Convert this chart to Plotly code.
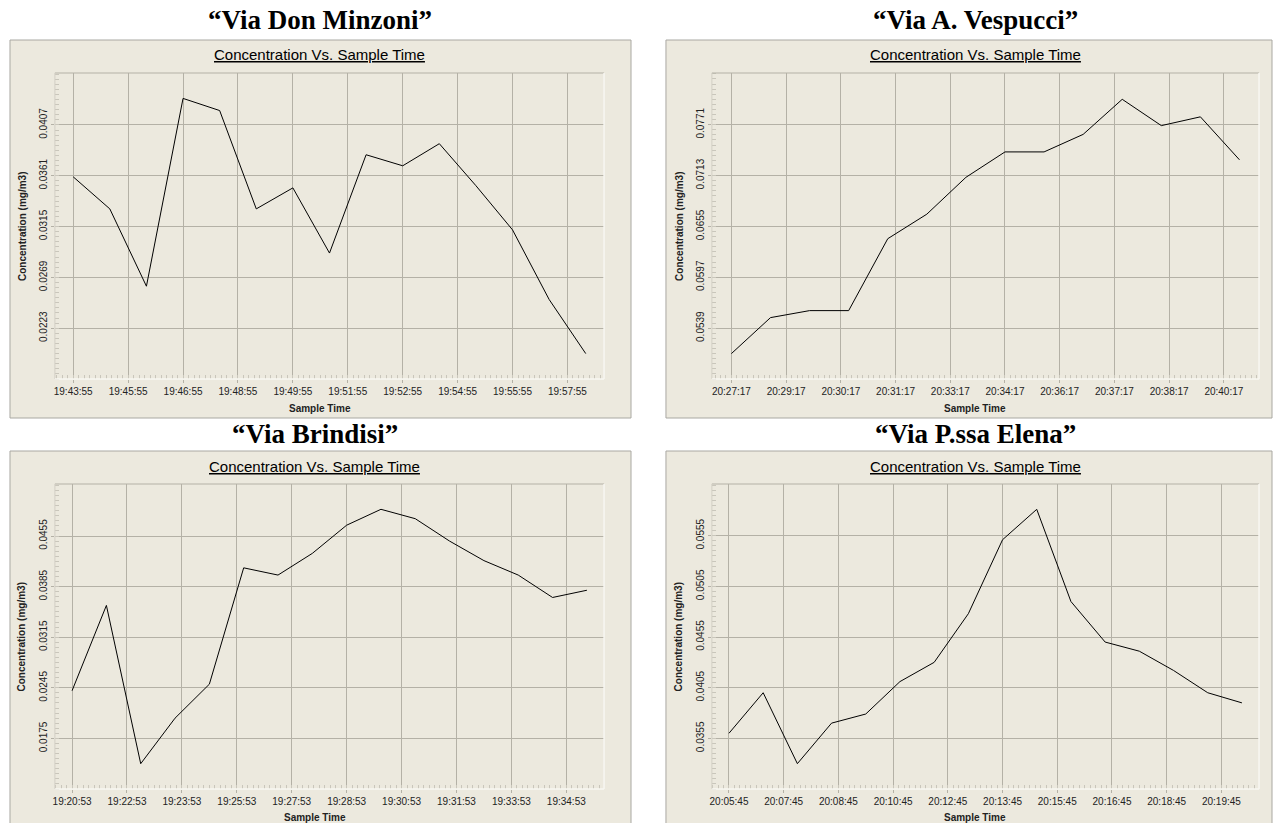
import plotly.graph_objects as go

W, H = 1273, 823
BG = "#ECE9DE"
GRID = "#B4B1A6"
MINOR = "#C9C6BB"
BORDER = "#A9A8A2"
TXT = "#222222"
SANS = "Liberation Sans, Arial, sans-serif"
SERIF = "Liberation Serif, Times New Roman, serif"

# ---- data ----
MINZONI_TICKS = ["19:43:55", "19:45:55", "19:46:55", "19:48:55", "19:49:55",
                 "19:51:55", "19:52:55", "19:54:55", "19:55:55", "19:57:55"]
MINZONI_CONC = [0.0360, 0.0331, 0.0261, 0.0431, 0.0420, 0.0331, 0.0350, 0.0291,
                0.0380, 0.0370, 0.0390, 0.0352, 0.0312, 0.0249, 0.0200]
MINZONI_YTICKS = [0.0223, 0.0269, 0.0315, 0.0361, 0.0407]

VESPUCCI_TICKS = ["20:27:17", "20:29:17", "20:30:17", "20:31:17", "20:33:17",
                  "20:34:17", "20:36:17", "20:37:17", "20:38:17", "20:40:17"]
VESPUCCI_CONC = [0.0510, 0.0551, 0.0559, 0.0559, 0.0641, 0.0669, 0.0711, 0.0740,
                 0.0740, 0.0760, 0.0800, 0.0770, 0.0780, 0.0731]
VESPUCCI_YTICKS = [0.0539, 0.0597, 0.0655, 0.0713, 0.0771]

BRINDISI_TICKS = ["19:20:53", "19:22:53", "19:23:53", "19:25:53", "19:27:53",
                  "19:28:53", "19:30:53", "19:31:53", "19:33:53", "19:34:53"]
BRINDISI_CONC = [0.0241, 0.0359, 0.0140, 0.0203, 0.0250, 0.0411, 0.0401, 0.0431,
                 0.0470, 0.0492, 0.0479, 0.0448, 0.0421, 0.0401, 0.0370, 0.0380]
BRINDISI_YTICKS = [0.0175, 0.0245, 0.0315, 0.0385, 0.0455]

ELENA_TICKS = ["20:05:45", "20:07:45", "20:08:45", "20:10:45", "20:12:45",
               "20:13:45", "20:15:45", "20:16:45", "20:18:45", "20:19:45"]
ELENA_CONC = [0.0360, 0.0400, 0.0330, 0.0370, 0.0379, 0.0411, 0.0430, 0.0478,
              0.0551, 0.0581, 0.0490, 0.0450, 0.0441, 0.0422, 0.0400, 0.0390]
ELENA_YTICKS = [0.0355, 0.0405, 0.0455, 0.0505, 0.0555]

# panel geometry in pixels: box, plot area, text centres
PANELS = [
    dict(name="“Via Don Minzoni”", ticks=MINZONI_TICKS, conc=MINZONI_CONC,
         yticks=MINZONI_YTICKS, yrange=[0.0177, 0.0454],
         box=(8, 40, 630, 418), plot=(53, 73, 603, 379),
         cx=318, head_y=20, sub_y=54, xt_y=408, yt_x=20),
    dict(name="“Via A. Vespucci”", ticks=VESPUCCI_TICKS, conc=VESPUCCI_CONC,
         yticks=VESPUCCI_YTICKS, yrange=[0.0481, 0.0830],
         box=(665, 40, 1272, 418), plot=(711, 73, 1259, 379),
         cx=975, head_y=20, sub_y=54, xt_y=408, yt_x=678),
    dict(name="“Via Brindisi”", ticks=BRINDISI_TICKS, conc=BRINDISI_CONC,
         yticks=BRINDISI_YTICKS, yrange=[0.0105, 0.0527],
         box=(8, 451, 630, 830), plot=(53, 484, 603, 789),
         cx=313, head_y=434, sub_y=466, xt_y=817, yt_x=20),
    dict(name="“Via P.ssa Elena”", ticks=ELENA_TICKS, conc=ELENA_CONC,
         yticks=ELENA_YTICKS, yrange=[0.0305, 0.0606],
         box=(665, 451, 1272, 830), plot=(711, 484, 1259, 789),
         cx=975, head_y=434, sub_y=466, xt_y=817, yt_x=678),
]


def px(x):
    return x / W


def py(y):
    return 1 - y / H


fig = go.Figure()
shapes, annotations = [], []

for i, p in enumerate(PANELS, start=1):
    n = len(p["conc"])
    sfx = "" if i == 1 else str(i)
    x0, y0, x1, y1 = p["plot"]
    bx0, by0, bx1, by1 = p["box"]

    fig.add_trace(go.Scatter(
        x=list(range(n)), y=p["conc"], mode="lines",
        line=dict(color="#000000", width=1),
        xaxis="x" + sfx, yaxis="y" + sfx, hoverinfo="x+y",
    ))

    ystep = p["yticks"][1] - p["yticks"][0]
    fig.update_layout(**{
        "xaxis" + sfx: dict(
            domain=[px(x0), px(x1)], anchor="y" + sfx,
            range=[-0.5, n - 0.5],
            tickmode="array",
            tickvals=[k * n / 10 for k in range(10)],
            ticktext=p["ticks"],
            showgrid=True, gridcolor=GRID, gridwidth=1, zeroline=False,
            ticks="outside", ticklen=3, tickcolor=GRID,
            tickfont=dict(family=SANS, size=10, color=TXT),
            showline=False,
            minor=dict(tickmode="linear", tick0=0, dtick=n / 100,
                       ticks="inside", ticklen=4, tickcolor=MINOR, showgrid=False),
        ),
        "yaxis" + sfx: dict(
            domain=[py(y1), py(y0)], anchor="x" + sfx,
            range=p["yrange"],
            tickmode="array", tickvals=p["yticks"],
            ticktext=[f"{v:.4f}" for v in p["yticks"]],
            tickangle=-90,
            showgrid=True, gridcolor=GRID, gridwidth=1, zeroline=False,
            ticks="outside", ticklen=3, tickcolor=GRID,
            tickfont=dict(family=SANS, size=10, color=TXT),
            showline=False,
            minor=dict(tickmode="linear", tick0=p["yticks"][0], dtick=ystep / 10,
                       ticks="inside", ticklen=4, tickcolor=MINOR, showgrid=False),
        ),
    })

    # panel box
    shapes.append(dict(type="rect", xref="paper", yref="paper", layer="below",
                       x0=px(bx0), x1=px(bx1), y0=py(by1), y1=py(by0),
                       fillcolor=BG, line=dict(color=BORDER, width=1)))
    # plot frame: grey top/left, light right/bottom
    shapes += [
        dict(type="line", xref="paper", yref="paper", x0=px(x0), x1=px(x1),
             y0=py(y0), y1=py(y0), line=dict(color=GRID, width=1)),
        dict(type="line", xref="paper", yref="paper", x0=px(x0), x1=px(x0),
             y0=py(y0), y1=py(y1), line=dict(color="#D2CFC4", width=1)),
        dict(type="line", xref="paper", yref="paper", x0=px(x1), x1=px(x1),
             y0=py(y0), y1=py(y1), line=dict(color="#F8F7F2", width=1.5)),
        dict(type="line", xref="paper", yref="paper", x0=px(x0), x1=px(x1),
             y0=py(y1), y1=py(y1), line=dict(color="#F8F7F2", width=1.5)),
    ]

    annotations += [
        dict(text="<b>" + p["name"] + "</b>", x=px(p["cx"]), y=py(p["head_y"]),
             xref="paper", yref="paper", showarrow=False,
             xanchor="center", yanchor="middle",
             font=dict(family=SERIF, size=27, color="#000000")),
        dict(text="<u>Concentration Vs. Sample Time</u>", x=px(p["cx"]),
             y=py(p["sub_y"]), xref="paper", yref="paper", showarrow=False,
             xanchor="center", yanchor="middle",
             font=dict(family=SANS, size=15, color="#000000")),
        dict(text="<b>Sample Time</b>", x=px(p["cx"]), y=py(p["xt_y"]),
             xref="paper", yref="paper", showarrow=False,
             xanchor="center", yanchor="middle",
             font=dict(family=SANS, size=10, color=TXT)),
        dict(text="<b>Concentration (mg/m3)</b>", x=px(p["yt_x"]),
             y=py((y0 + y1) / 2), xref="paper", yref="paper", showarrow=False,
             textangle=-90, xanchor="center", yanchor="middle",
             font=dict(family=SANS, size=10, color=TXT)),
    ]

fig.update_layout(
    width=W, height=H, autosize=False,
    margin=dict(l=0, r=0, t=0, b=0),
    paper_bgcolor="#FFFFFF", plot_bgcolor=BG,
    showlegend=False,
    shapes=shapes, annotations=annotations,
)

# the page's default body margin would shift the fixed-size figure
fig.write_html("out.html",
               config={"displayModeBar": False},
               post_script="document.body.style.margin='0';"
                           "document.body.style.overflow='hidden';")
